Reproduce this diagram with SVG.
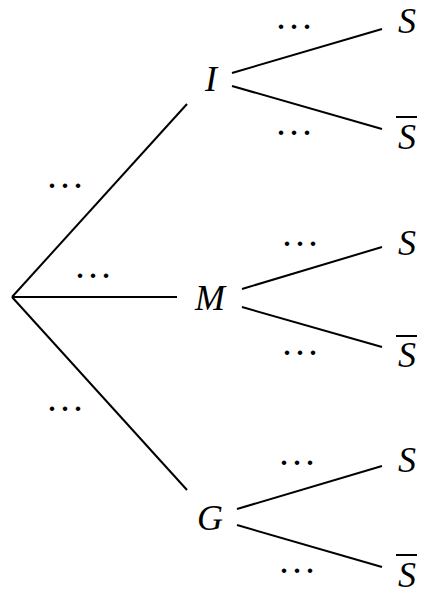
<svg xmlns="http://www.w3.org/2000/svg" width="430" height="596" viewBox="0 0 430 596">
<style>
.lbl{font-family:"Liberation Serif","DejaVu Serif",serif;font-style:italic;font-size:36px;fill:#000;text-anchor:middle}
.dots{font-family:"Liberation Serif","DejaVu Serif",serif;font-weight:bold;font-size:28px;letter-spacing:6px;fill:#000;text-anchor:middle}
.edge{stroke:#000;stroke-width:2;fill:none;stroke-linecap:butt}
.bar{stroke:#000;stroke-width:2}
</style>
<rect width="430" height="596" fill="#fff"/>
<g id="connectors">
<line class="edge" x1="12" y1="297" x2="187" y2="104"/>
<line class="edge" x1="12" y1="297" x2="177" y2="297"/>
<line class="edge" x1="12" y1="297" x2="187" y2="490"/>
<line class="edge" x1="232" y1="73" x2="382" y2="29"/>
<line class="edge" x1="232" y1="86" x2="382" y2="129"/>
<line class="edge" x1="242" y1="289" x2="382" y2="247"/>
<line class="edge" x1="242" y1="307" x2="382" y2="347"/>
<line class="edge" x1="237" y1="509" x2="382" y2="466"/>
<line class="edge" x1="237" y1="525" x2="382" y2="567"/>
</g>
<g id="edge-labels">
<text class="dots" x="68" y="188">...</text>
<text class="dots" x="96" y="278">...</text>
<text class="dots" x="68" y="411">...</text>
<text class="dots" x="297" y="29">...</text>
<text class="dots" x="297" y="135">...</text>
<text class="dots" x="303" y="246">...</text>
<text class="dots" x="303" y="355">...</text>
<text class="dots" x="300" y="465">...</text>
<text class="dots" x="300" y="573">...</text>
</g>
<g id="node-I"><text class="lbl" x="211" y="91">I</text></g>
<g id="node-M"><text class="lbl" x="210" y="310">M</text></g>
<g id="node-G"><text class="lbl" x="210" y="530">G</text></g>
<g id="node-I-S"><text class="lbl" x="407" y="33">S</text></g>
<g id="node-I-notS"><line class="bar" x1="396" y1="117" x2="417" y2="117"/><text class="lbl" x="407" y="149">S</text></g>
<g id="node-M-S"><text class="lbl" x="407" y="255">S</text></g>
<g id="node-M-notS"><line class="bar" x1="396" y1="336" x2="417" y2="336"/><text class="lbl" x="407" y="367">S</text></g>
<g id="node-G-S"><text class="lbl" x="407" y="472">S</text></g>
<g id="node-G-notS"><line class="bar" x1="396" y1="555" x2="417" y2="555"/><text class="lbl" x="407" y="587">S</text></g>
</svg>
